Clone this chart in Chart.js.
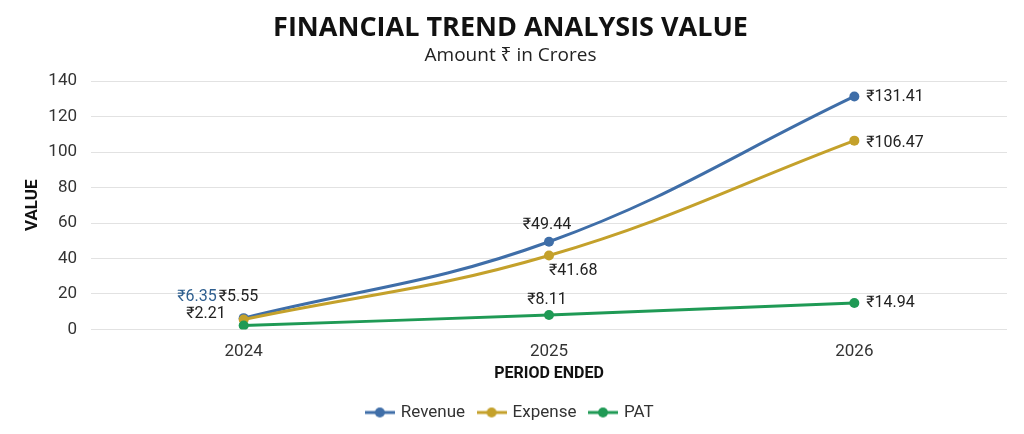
<!DOCTYPE html>
<html>
<head>
<meta charset="utf-8">
<script src="https://cdn.jsdelivr.net/npm/chart.js@4.4.1/dist/chart.umd.min.js"></script>
<style>
  html, body { margin: 0; padding: 0; background: #fff; }
  #wrap { width: 1024px; height: 434px; }
</style>
</head>
<body>
<div id="wrap"><canvas id="chart"></canvas></div>
<script>
const periods = ["2024", "2025", "2026"];
const revenue = [6.35, 49.44, 131.41];
const expense = [5.55, 41.68, 106.47];
const pat = [2.21, 8.11, 14.94];

const FONT = "Roboto, 'Noto Sans', sans-serif";

// where each value label sits relative to its point: [dx, dy, align, colour]
const labelPlacement = [
  [[-27, -21, "right", "#2f5f8f"], [-2, -17, "center"], [12, 1, "left"]],
  [[-25, -23, "left"], [0, 15, "left"], [12, 2, "left"]],
  [[-18, -11, "right"], [-2, -15, "center"], [12, 0, "left"]],
];

function makeMarker(color) {
  const c = document.createElement("canvas");
  c.width = 30;
  c.height = 12;
  const g = c.getContext("2d");
  g.strokeStyle = color;
  g.lineWidth = 3;
  g.beginPath();
  g.moveTo(0, 6);
  g.lineTo(30, 6);
  g.stroke();
  g.fillStyle = color;
  g.beginPath();
  g.arc(15, 6, 5, 0, Math.PI * 2);
  g.fill();
  return c;
}

const valueLabels = {
  id: "valueLabels",
  afterDatasetsDraw(chart) {
    const ctx = chart.ctx;
    chart.data.datasets.forEach((ds, i) => {
      const meta = chart.getDatasetMeta(i);
      meta.data.forEach((pt, j) => {
        const p = labelPlacement[i][j];
        ctx.save();
        ctx.font = "16px " + FONT;
        ctx.fillStyle = p[3] || "#222";
        ctx.textAlign = p[2];
        ctx.textBaseline = "middle";
        ctx.fillText("₹" + ds.data[j].toFixed(2), pt.x + p[0], pt.y + p[1]);
        ctx.restore();
      });
    });
  },
};

const colors = { revenue: "#3f6ea8", expense: "#c4a12b", pat: "#1f9a55" };

function lineSet(label, data, color, order) {
  return {
    label: label,
    data: data,
    borderColor: color,
    backgroundColor: color,
    borderWidth: 3,
    pointStyle: "circle",
    pointRadius: 5,
    pointHoverRadius: 5,
    pointBackgroundColor: color,
    pointBorderWidth: 0,
    tension: 0.4,
    order: order,
    legendMarker: makeMarker(color),
  };
}

new Chart(document.querySelector("#chart"), {
  type: "line",
  data: {
    labels: periods,
    datasets: [
      lineSet("Revenue", revenue, colors.revenue, 2),
      lineSet("Expense", expense, colors.expense, 1),
      lineSet("PAT", pat, colors.pat, 0),
    ],
  },
  options: {
    responsive: true,
    maintainAspectRatio: false,
    animation: false,
    layout: { padding: { left: 14, right: 17, bottom: 3 } },
    plugins: {
      title: {
        display: true,
        text: "FINANCIAL TREND ANALYSIS VALUE",
        color: "#111",
        font: { family: "'Open Sans', sans-serif", size: 27, weight: "bold" },
        padding: { top: 12, bottom: 0 },
      },
      subtitle: {
        display: true,
        text: "Amount ₹ in Crores",
        color: "#222",
        font: { family: "'Open Sans', 'Noto Sans', sans-serif", size: 19 },
        padding: { top: 0, bottom: 14 },
      },
      legend: {
        position: "bottom",
        labels: {
          usePointStyle: true,
          pointStyleWidth: 25,
          color: "#333",
          font: { family: FONT, size: 17 },
          padding: 14,
          generateLabels(chart) {
            return chart.data.datasets.map((ds, i) => ({
              text: ds.label,
              pointStyle: ds.legendMarker,
              fillStyle: ds.borderColor,
              strokeStyle: ds.borderColor,
              lineWidth: 0,
              fontColor: "#333",
              hidden: false,
              datasetIndex: i,
            }));
          },
        },
      },
      tooltip: { enabled: false },
    },
    scales: {
      x: {
        offset: true,
        grid: { display: false, drawTicks: false },
        border: { display: false },
        ticks: { color: "#333", font: { family: FONT, size: 17 }, padding: 12 },
        afterFit(scale) {
          scale.height = 60.6;
        },
        title: {
          display: true,
          text: "PERIOD ENDED",
          color: "#111",
          font: { family: FONT, size: 16, weight: "bold" },
          padding: { top: 2, bottom: 6 },
        },
      },
      y: {
        min: 0,
        max: 140,
        ticks: { stepSize: 20, color: "#333", font: { family: FONT, size: 17 }, padding: 14 },
        grid: { color: "#e2e2e2", drawTicks: false },
        border: { display: false },
        afterFit(scale) {
          scale.width = 77;
        },
        title: {
          display: true,
          text: "VALUE",
          color: "#111",
          font: { family: FONT, size: 17, weight: "bold" },
          padding: { top: 9, bottom: 0 },
        },
      },
    },
  },
  plugins: [valueLabels],
});
</script>
</body>
</html>
